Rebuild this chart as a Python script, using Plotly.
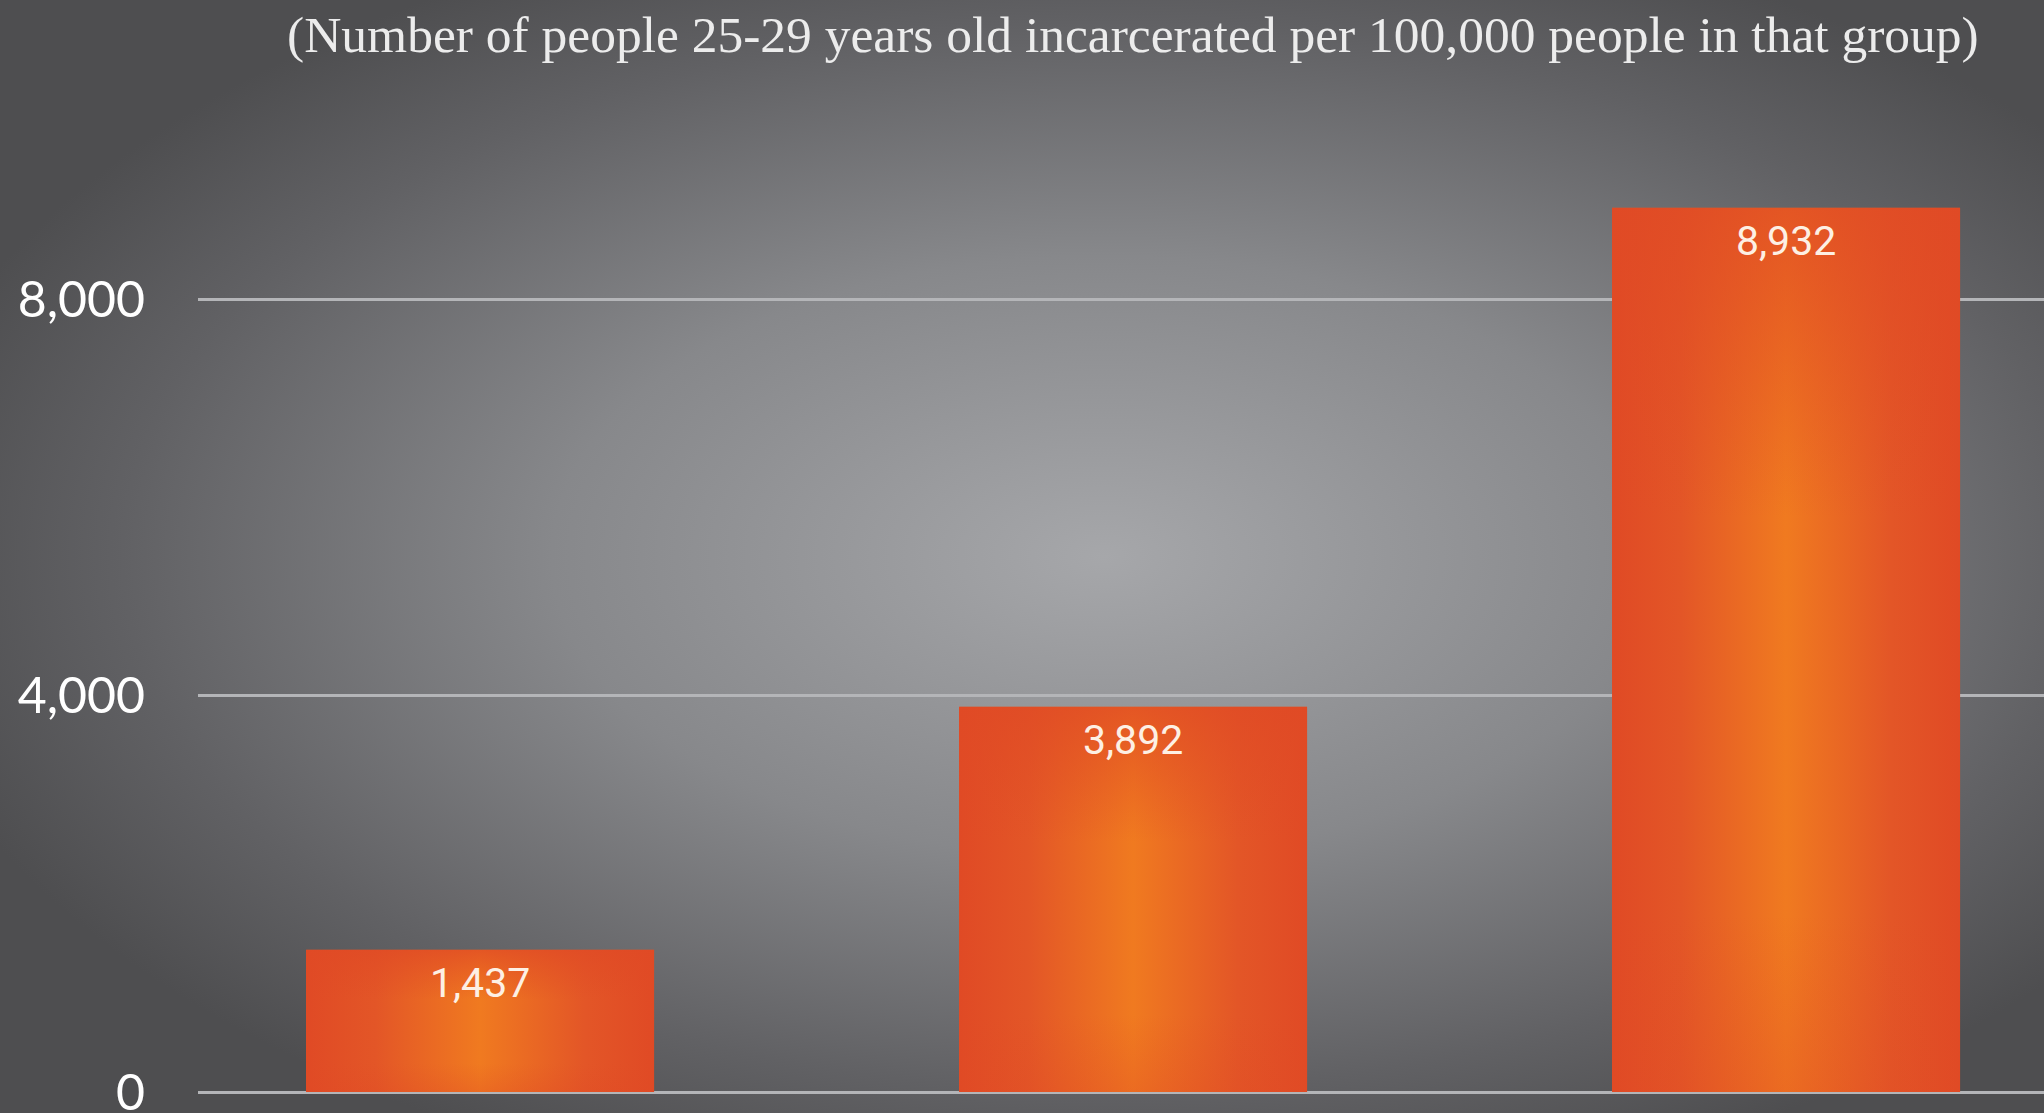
import base64
import plotly.graph_objects as go

# ---- data ----
categories = ["White", "Hispanic", "Black"]
values = [1437, 3892, 8932]
value_labels = ["1,437", "3,892", "8,932"]
ytick_vals = [0, 4000, 8000]
ytick_text = ["0", "4,000", "8,000"]
subtitle = "(Number of people 25-29 years old incarcerated per 100,000 people in that group)"

# ---- layout constants ----
W, H = 2044, 1113
ML, MR, MT, MB = 198, 0, 170, 21
PW, PH = W - ML - MR, H - MT - MB
BAR_W = 0.533
Y_MAX = 9313
X_RANGE = [-0.432, 2.395]


def svg_uri(svg):
    return "data:image/svg+xml;base64," + base64.b64encode(svg.encode()).decode()


bg_svg = (
    "<svg xmlns='http://www.w3.org/2000/svg' width='2044' height='1113' viewBox='0 0 2044 1113' "
    "preserveAspectRatio='none'><defs>"
    "<radialGradient id='g' cx='0.54' cy='0.5' r='0.6'>"
    "<stop offset='0' stop-color='#a6a7aa'/>"
    "<stop offset='0.45' stop-color='#87888b'/>"
    "<stop offset='0.8' stop-color='#616164'/>"
    "<stop offset='1' stop-color='#4e4e50'/>"
    "</radialGradient></defs>"
    "<rect width='2044' height='1113' fill='url(#g)'/></svg>"
)

bar_svg = (
    "<svg xmlns='http://www.w3.org/2000/svg' width='100' height='100' viewBox='0 0 100 100' "
    "preserveAspectRatio='none'><defs>"
    "<linearGradient id='h' x1='0' y1='0' x2='1' y2='0'>"
    "<stop offset='0' stop-color='#e04a25'/>"
    "<stop offset='0.2' stop-color='#e35627'/>"
    "<stop offset='0.5' stop-color='#f07a20'/>"
    "<stop offset='0.8' stop-color='#e35627'/>"
    "<stop offset='1' stop-color='#e04a25'/>"
    "</linearGradient>"
    "<linearGradient id='v' x1='0' y1='0' x2='0' y2='1'>"
    "<stop offset='0' stop-color='#e04a25' stop-opacity='0.75'/>"
    "<stop offset='0.35' stop-color='#e04a25' stop-opacity='0'/>"
    "<stop offset='0.8' stop-color='#e04a25' stop-opacity='0'/>"
    "<stop offset='1' stop-color='#e04a25' stop-opacity='0.3'/>"
    "</linearGradient></defs>"
    "<rect width='100' height='100' fill='url(#h)'/>"
    "<rect width='100' height='100' fill='url(#v)'/></svg>"
)

xs = list(range(len(categories)))

fig = go.Figure()
fig.add_trace(go.Bar(
    x=xs, y=values, width=BAR_W,
    marker=dict(color="#e35427", line=dict(width=0)),
    hoverinfo="skip", showlegend=False,
))

images = [dict(
    source=svg_uri(bg_svg), xref="paper", yref="paper",
    x=-ML / PW, y=(PH + MT) / PH, sizex=W / PW, sizey=H / PH,
    xanchor="left", yanchor="top", sizing="stretch", layer="below",
)]
for xi, v in zip(xs, values):
    images.append(dict(
        source=svg_uri(bar_svg), xref="x", yref="y",
        x=xi - BAR_W / 2, y=v, sizex=BAR_W, sizey=v,
        xanchor="left", yanchor="top", sizing="stretch", layer="above",
    ))

annotations = [dict(
    text=subtitle, xref="paper", yref="paper",
    x=(1133 - ML) / PW, y=(PH + MT - 35) / PH,
    xanchor="center", yanchor="middle", showarrow=False,
    font=dict(family="Liberation Serif", size=51.5, color="#ececec"),
)]
for xi, v, lab in zip(xs, values, value_labels):
    annotations.append(dict(
        text=lab, x=xi, y=v, xref="x", yref="y", yshift=-33,
        xanchor="center", yanchor="middle", showarrow=False,
        font=dict(family="Roboto", size=41, color="#fdf0e4"),
    ))

fig.update_layout(
    width=W, height=H,
    margin=dict(l=ML, r=MR, t=MT, b=MB, pad=0, autoexpand=False),
    paper_bgcolor="#5a5a5c", plot_bgcolor="rgba(0,0,0,0)",
    images=images, annotations=annotations,
    xaxis=dict(range=X_RANGE, tickvals=xs, ticktext=categories, showticklabels=False,
               showgrid=False, zeroline=False, showline=False, ticks="", automargin=False),
    yaxis=dict(range=[0, Y_MAX], tickvals=ytick_vals, ticktext=ytick_text,
               showgrid=True, gridcolor="#b4b5b8", gridwidth=3,
               zeroline=True, zerolinecolor="#b4b5b8", zerolinewidth=3,
               showline=False, ticks="", ticklabelstandoff=52,
               ticklabeloverflow="allow", automargin=False,
               tickfont=dict(family="Lato", size=50, color="#ffffff")),
    bargap=0.467,
)

fig.write_html(
    "out.html",
    config={"displayModeBar": False},
    post_script="document.body.style.margin='0';document.body.style.overflow='hidden';",
)
